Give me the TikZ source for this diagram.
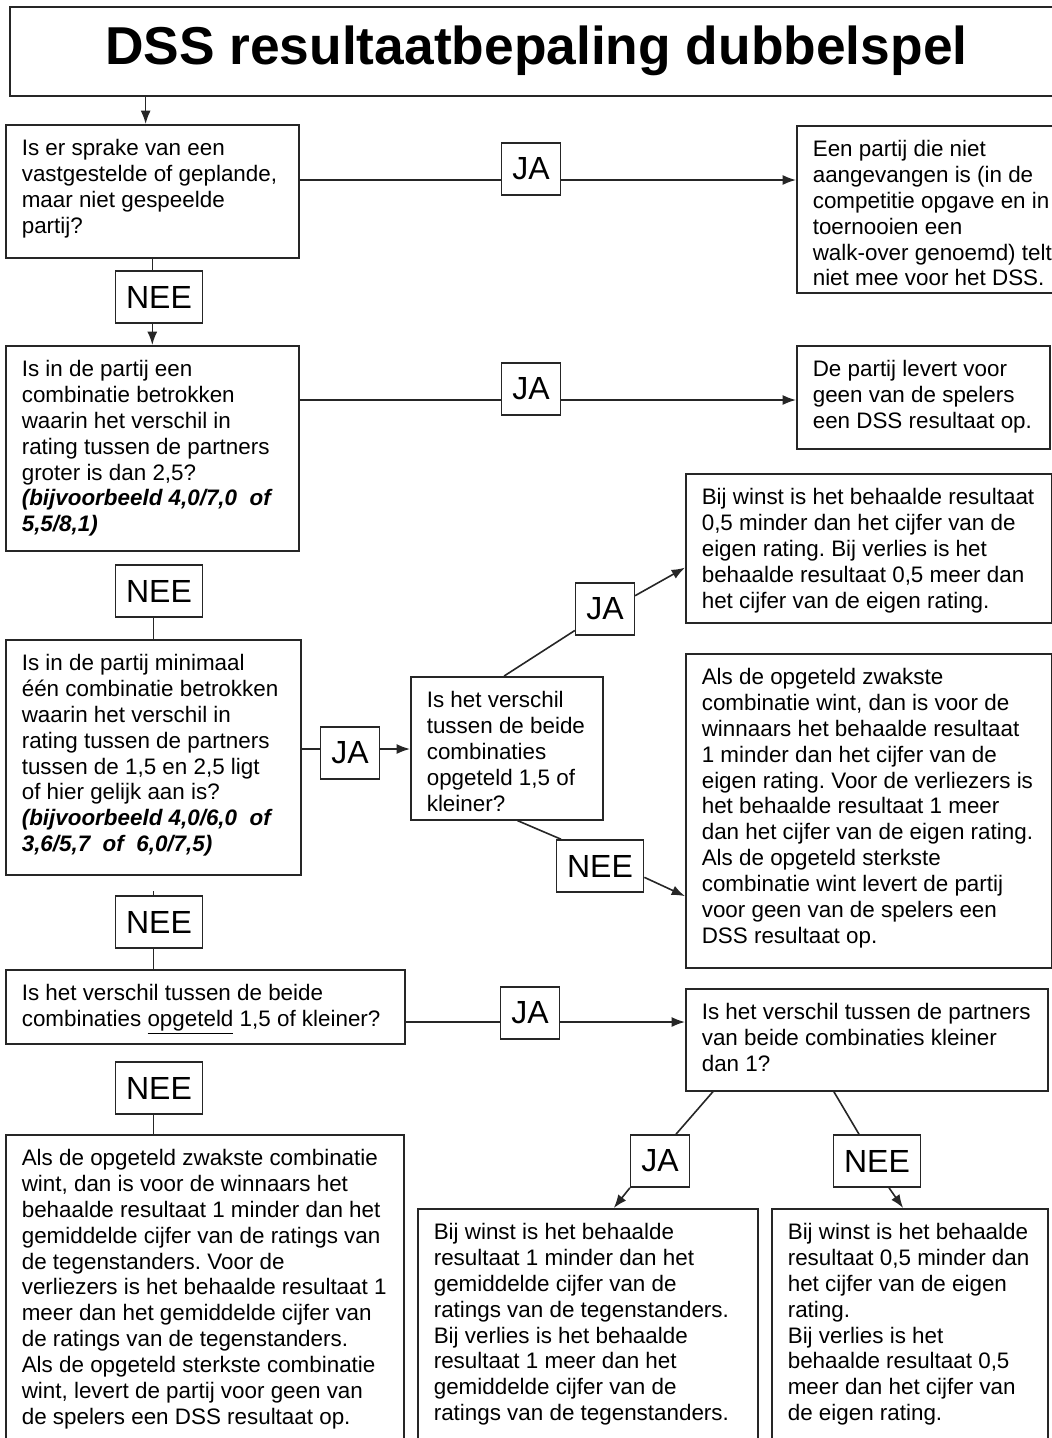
\documentclass[tikz,border=0pt]{standalone}
\usepackage{fontspec}
\setmainfont{Liberation Sans}
\usetikzlibrary{arrows.meta,calc}
\definecolor{frameline}{HTML}{262626}
\newdimen\pxu
\pxu=0.75pt
\frenchspacing

\begin{document}
\begin{tikzpicture}[x=0.75pt,y=-0.75pt,>={Latex[length=10pt,width=7.5pt]},
 font=\fontsize{16.8}{19.4}\selectfont,
 titlebox/.style={draw=frameline,line width=1.2pt,anchor=north west,inner sep=0pt,
  minimum width=1053\pxu,minimum height=89\pxu,font=\fontsize{40}{48}\selectfont\bfseries},
 txtbox/.style 2 args={draw=frameline,line width=1.2pt,anchor=north west,inner sep=0pt,
  execute at begin node={\begin{minipage}[t][#2\pxu][t]{#1\pxu}\raggedright\leftskip=16\pxu\vspace*{9.5pt}\strut},
  execute at end node={\end{minipage}}},
 answer/.style={draw=frameline,line width=1.2pt,inner xsep=8pt,inner ysep=0pt,
  minimum height=52\pxu,font=\fontsize{24}{28}\selectfont},
 conn/.style={draw=frameline,line width=1.2pt}]
\useasboundingbox (0,0) rectangle (1051,1438);
\node[titlebox] (title) at (9,6) {DSS resultaatbepaling dubbelspel};

\node[txtbox={293}{133}] (q1) at (5,124) {Is er sprake van een\\vastgestelde of geplande,\\maar niet gespeelde\\partij?};
\node[txtbox={293}{205}] (q2) at (5,345) {Is in de partij een\\combinatie betrokken\\waarin het verschil in\\rating tussen de partners\\groter is dan 2,5?\\\textbf{\textit{(bijvoorbeeld 4,0/7,0\ \ of}}\\\textbf{\textit{5,5/8,1)}}};
\node[txtbox={295}{235}] (q3) at (5,639) {Is in de partij minimaal\\één combinatie betrokken\\waarin het verschil in\\rating tussen de partners\\tussen de 1,5 en 2,5 ligt\\of hier gelijk aan is?\\\textbf{\textit{(bijvoorbeeld 4,0/6,0\ \ of}}\\\textbf{\textit{3,6/5,7\ \ of\ \ 6,0/7,5)}}};
\node[txtbox={192}{143}] (q4) at (410,676) {Is het verschil\\tussen de beide\\combinaties\\opgeteld 1,5 of\\kleiner?};
\node[txtbox={399}{74}] (q5) at (5,969) {Is het verschil tussen de beide\\combinaties \underline{opgeteld} 1,5 of kleiner?};
\node[txtbox={362}{102}] (q6) at (685,988) {Is het verschil tussen de partners\\van beide combinaties kleiner\\dan 1?};

\node[txtbox={290}{167}] (r1) at (796,125) {Een partij die niet\\aangevangen is (in de\\competitie opgave en in\\toernooien een\\walk-over genoemd) telt\\niet mee voor het DSS.};
\node[txtbox={253}{103}] (r2) at (796,345) {De partij levert voor\\geen van de spelers\\een DSS resultaat op.};
\node[txtbox={366}{149}] (r3) at (685,473) {Bij winst is het behaalde resultaat\\0,5 minder dan het cijfer van de\\eigen rating. Bij verlies is het\\behaalde resultaat 0,5 meer dan\\het cijfer van de eigen rating.};
\node[txtbox={366}{314}] (r4) at (685,653) {Als de opgeteld zwakste\\combinatie wint, dan is voor de\\winnaars het behaalde resultaat\\1 minder dan het cijfer van de\\eigen rating. Voor de verliezers is\\het behaalde resultaat 1 meer\\dan het cijfer van de eigen rating.\\Als de opgeteld sterkste\\combinatie wint levert de partij\\voor geen van de spelers een\\DSS resultaat op.};
\node[txtbox={398}{330}] (r5) at (5,1134) {Als de opgeteld zwakste combinatie\\wint, dan is voor de winnaars het\\behaalde resultaat 1 minder dan het\\gemiddelde cijfer van de ratings van\\de tegenstanders. Voor de\\verliezers is het behaalde resultaat 1\\meer dan het gemiddelde cijfer van\\de ratings van de tegenstanders.\\Als de opgeteld sterkste combinatie\\wint, levert de partij voor geen van\\de spelers een DSS resultaat op.};
\node[txtbox={340}{260}] (r6) at (417,1208) {Bij winst is het behaalde\\resultaat 1 minder dan het\\gemiddelde cijfer van de\\ratings van de tegenstanders.\\Bij verlies is het behaalde\\resultaat 1 meer dan het\\gemiddelde cijfer van de\\ratings van de tegenstanders.};
\node[txtbox={276}{260}] (r7) at (771,1208) {Bij winst is het behaalde\\resultaat 0,5 minder dan\\het cijfer van de eigen\\rating.\\Bij verlies is het\\behaalde resultaat 0,5\\meer dan het cijfer van\\de eigen rating.};

\node[answer] (ja1) at (531,169) {JA};
\node[answer] (nee1) at (159,297) {NEE};
\node[answer] (ja2) at (531,389) {JA};
\node[answer] (nee2) at (159,591) {NEE};
\node[answer] (ja3) at (350,753) {JA};
\node[answer] (ja4) at (605,609) {JA};
\node[answer] (nee3) at (600,866) {NEE};
\node[answer] (nee4) at (159,922) {NEE};
\node[answer] (ja5) at (530,1013) {JA};
\node[answer] (nee5) at (159,1088) {NEE};
\node[answer] (ja6) at (660,1161) {JA};
\node[answer] (nee6) at (877,1161) {NEE};

\coordinate (y1) at (0,180);
\coordinate (y2) at (0,400);
\coordinate (y3) at (0,749);
\coordinate (y5) at (0,1022);

\draw[conn,->] ([xshift=-5pt]q1.north |- title.south) -- ([xshift=-5pt]q1.north);
\draw[conn] (q1.south) -- (q1.south |- nee1.north);
\draw[conn,->] (q1.south |- nee1.south) -- (q2.north);
\draw[conn] (q1.east |- y1) -- (ja1.west |- y1);
\draw[conn,->] (ja1.east |- y1) -- (r1.west |- y1);
\draw[conn] (q2.east |- y2) -- (ja2.west |- y2);
\draw[conn,->] (ja2.east |- y2) -- (r2.west |- y2);
\draw[conn] (q3.north |- nee2.south) -- (q3.north);
\draw[conn] (q3.east |- y3) -- (ja3.west |- y3);
\draw[conn,->] (ja3.east |- y3) -- (q4.west |- y3);
\draw[conn] ([xshift=-2pt]q4.north) -- ([yshift=4pt]ja4.south west);
\draw[conn,->] ([yshift=10pt]ja4.east) -- ([yshift=-14.5pt]r3.west);
\draw[conn] ([xshift=8pt]q4.south) -- ([xshift=4pt]nee3.north west);
\draw[conn,->] ([yshift=-8.5pt]nee3.east) -- ([yshift=-64pt]r4.west);
\draw[conn] ([yshift=3pt]q3.south |- nee4.north) -- (q3.south |- nee4.north);
\draw[conn] (q3.south |- nee4.south) -- (q3.south |- q5.north);
\draw[conn] (q5.east |- y5) -- (ja5.west |- y5);
\draw[conn,->] (ja5.east |- y5) -- (q6.west |- y5);
\draw[conn] (q3.south |- nee5.south) -- (q3.south |- r5.north);
\draw[conn] ([xshift=21pt]q6.south west) -- ([xshift=12pt]ja6.north);
\draw[conn,->] (ja6.south west) -- ([xshift=19.5pt]r6.north);
\draw[conn] ([xshift=-24.75pt]q6.south) -- ([xshift=-13.5pt]nee6.north);
\draw[conn,->] ([xshift=9pt]nee6.south) -- ([xshift=-5pt]r7.north);
\end{tikzpicture}
\end{document}
